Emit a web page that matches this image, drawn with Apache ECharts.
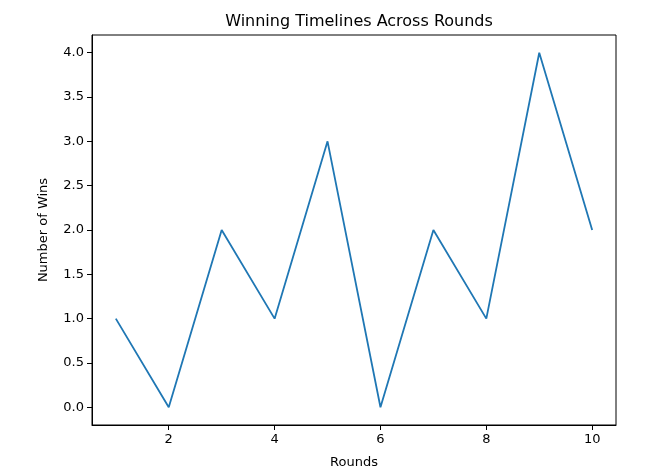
<!DOCTYPE html>
<html>
<head>
<meta charset="utf-8">
<script src="https://cdn.jsdelivr.net/npm/echarts@6/dist/echarts.min.js"></script>
<style>html,body{margin:0;padding:0;background:#fff;}#c{width:649px;height:475px;}</style>
</head>
<body>
<div id="c"></div>
<script>
const rounds = [1, 2, 3, 4, 5, 6, 7, 8, 9, 10];
const wins = [1, 0, 2, 1, 3, 0, 2, 1, 4, 2];
const xTicks = [2, 4, 6, 8, 10];
const yTicks = [0, 0.5, 1, 1.5, 2, 2.5, 3, 3.5, 4];

const chart = echarts.init(document.getElementById('c'), null, {renderer: 'canvas'});
const font = 'DejaVu Sans';
chart.setOption({
  animation: false,
  backgroundColor: '#fff',
  title: {
    text: 'Winning Timelines Across Rounds',
    left: 354, top: 9, textAlign: 'center',
    textStyle: {fontFamily: font, fontSize: 16, fontWeight: 'normal', color: '#000'}
  },
  grid: {left: 92, right: 33, top: 35, bottom: 50, show: true, borderColor: '#000', borderWidth: 1, backgroundColor: 'transparent'},
  xAxis: {
    type: 'value', min: 0.55, max: 10.45,
    name: 'Rounds', nameLocation: 'middle', nameGap: 31,
    nameTextStyle: {fontFamily: font, fontSize: 13, color: '#000'},
    axisLine: {show: true, onZero: false, lineStyle: {color: '#000', width: 1}},
    splitLine: {show: false},
    axisTick: {show: true, inside: false, length: 5, lineStyle: {color: '#000', width: 1}, customValues: xTicks},
    axisLabel: {fontFamily: font, fontSize: 13, color: '#000', margin: 8, customValues: xTicks, formatter: v => String(v)}
  },
  yAxis: {
    type: 'value', min: -0.2, max: 4.2,
    name: 'Number of Wins', nameLocation: 'middle', nameGap: 42,
    nameTextStyle: {fontFamily: font, fontSize: 13, color: '#000'},
    axisLine: {show: true, onZero: false, lineStyle: {color: '#000', width: 1}},
    splitLine: {show: false},
    axisTick: {show: true, inside: false, length: 5, lineStyle: {color: '#000', width: 1}, customValues: yTicks},
    axisLabel: {fontFamily: font, fontSize: 13, color: '#000', margin: 8, customValues: yTicks, formatter: v => v.toFixed(1)}
  },
  series: [{
    type: 'line',
    data: rounds.map((r, i) => [r, wins[i]]),
    showSymbol: false,
    lineStyle: {color: '#1f77b4', width: 1.8},
    itemStyle: {color: '#1f77b4'}
  }]
});
</script>
</body>
</html>
